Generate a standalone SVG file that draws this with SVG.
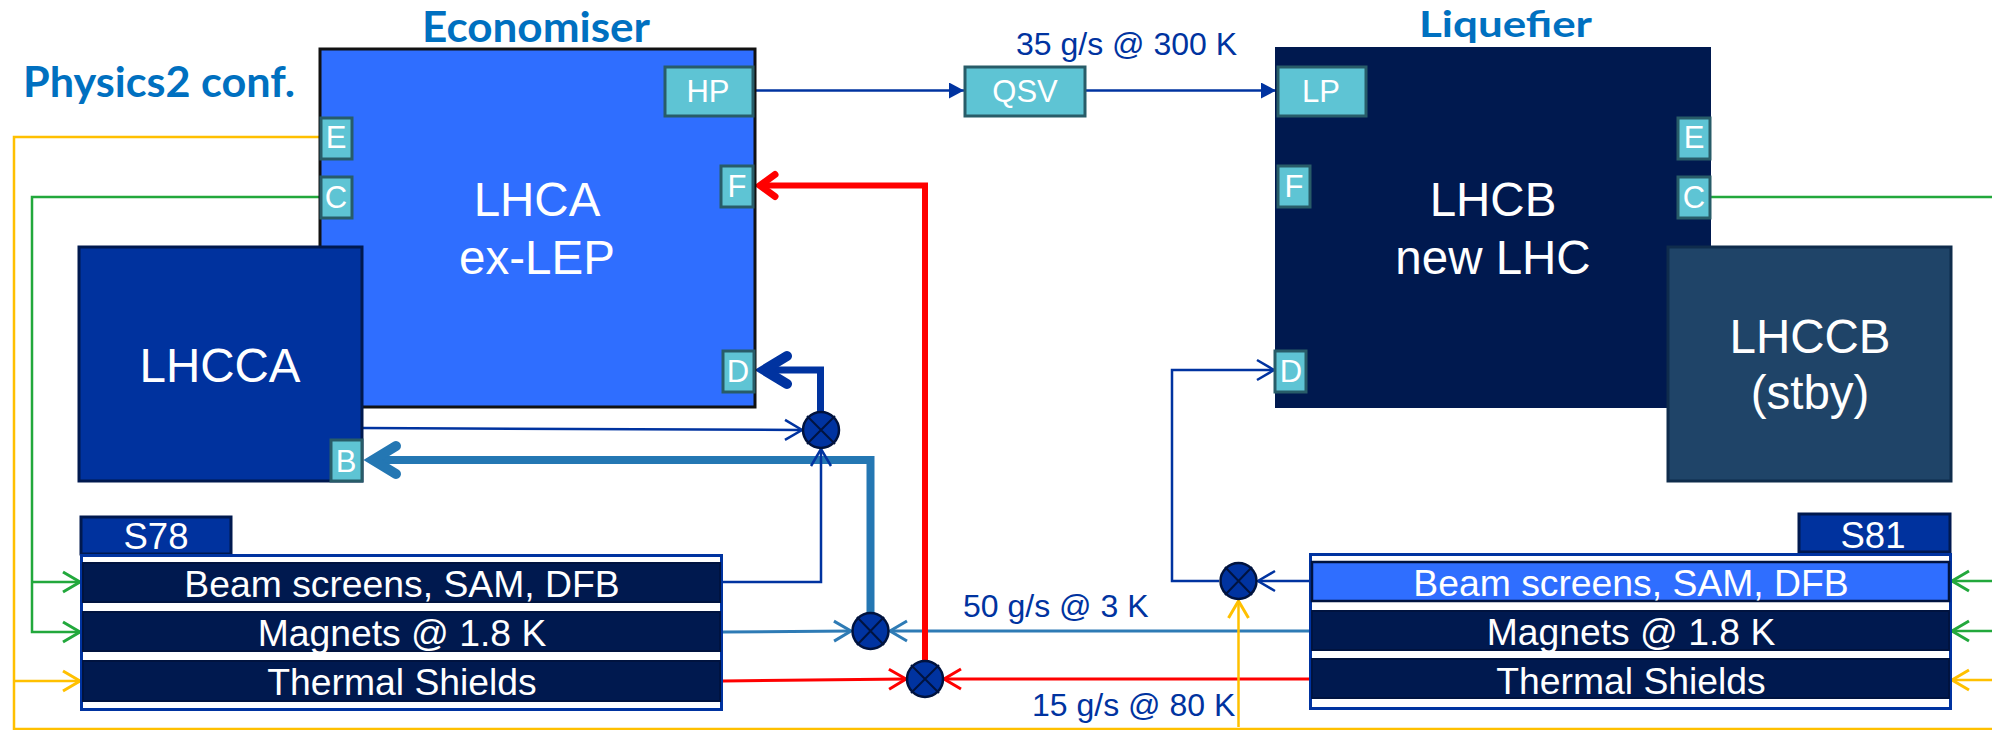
<svg xmlns="http://www.w3.org/2000/svg" width="1992" height="730" viewBox="0 0 1992 730">
<style>
text{font-family:"Liberation Sans",Arial,sans-serif;text-anchor:middle;fill:#fff}
.big{font-size:47.500px}
.port{fill:#5EC4D4;stroke:#285C68;stroke-width:3}
.pt{font-size:31px}
.row{font-size:37.300px}
.sec{font-size:36.500px}
.rowbg{fill:#00194F;stroke:#00133F;stroke-width:2}
.frame{fill:#fff;stroke:#0033A0;stroke-width:3}
.lab{font-size:32px;fill:#0033A0;text-anchor:start}
.title{font-family:Lato,"Open Sans",sans-serif;font-weight:700;fill:#0070C0;font-size:42px;text-anchor:start}
.v{fill:#0033A0;stroke:#00133F;stroke-width:2.5}
.vx{stroke:#00133F;stroke-width:2;fill:none}
.c{fill:none}
.blue{stroke:#0033A0;stroke-width:2.5}
.steel{stroke:#2E7BB5;stroke-width:3}
.red{stroke:#FF0000;stroke-width:3}
.yel{stroke:#FFC000;stroke-width:2.5}
.grn{stroke:#22A83C;stroke-width:2.5}
</style>
<defs>
<marker id="tri" markerUnits="userSpaceOnUse" markerWidth="16" markerHeight="18" refX="15" refY="8" orient="auto"><path d="M0 0L15 8L0 16z" fill="#0033A0"/></marker>
<marker id="oBlue" markerUnits="userSpaceOnUse" markerWidth="22" markerHeight="24" refX="19" refY="12" orient="auto"><path d="M2 2L19 12L2 22" fill="none" stroke="#0033A0" stroke-width="2.5"/></marker>
<marker id="oSteel" markerUnits="userSpaceOnUse" markerWidth="22" markerHeight="24" refX="19" refY="12" orient="auto"><path d="M2 2L19 12L2 22" fill="none" stroke="#2E7BB5" stroke-width="3"/></marker>
<marker id="oRed" markerUnits="userSpaceOnUse" markerWidth="22" markerHeight="24" refX="19" refY="12" orient="auto"><path d="M2 2L19 12L2 22" fill="none" stroke="#FF0000" stroke-width="3"/></marker>
<marker id="oYel" markerUnits="userSpaceOnUse" markerWidth="22" markerHeight="24" refX="19" refY="12" orient="auto"><path d="M2 2L19 12L2 22" fill="none" stroke="#FFC000" stroke-width="3"/></marker>
<marker id="oGrn" markerUnits="userSpaceOnUse" markerWidth="22" markerHeight="24" refX="19" refY="12" orient="auto"><path d="M2 2L19 12L2 22" fill="none" stroke="#22A83C" stroke-width="3"/></marker>
<marker id="hRed" markerUnits="userSpaceOnUse" markerWidth="32" markerHeight="34" refX="20" refY="16" orient="auto"><path d="M5 5L20 16L5 27" fill="none" stroke="#FF0000" stroke-width="7" stroke-linecap="round"/></marker>
<marker id="hBlue" markerUnits="userSpaceOnUse" markerWidth="46" markerHeight="44" refX="30" refY="21" orient="auto"><path d="M7 7L30 21L7 35" fill="none" stroke="#0033A0" stroke-width="10" stroke-linecap="round"/></marker>
<marker id="hSteel" markerUnits="userSpaceOnUse" markerWidth="46" markerHeight="44" refX="30" refY="21" orient="auto"><path d="M7 7L30 21L7 35" fill="none" stroke="#2477B3" stroke-width="10" stroke-linecap="round"/></marker>
</defs>

<g id="title-physics"><text class="title" x="23" y="97" textLength="272" lengthAdjust="spacingAndGlyphs">Physics2 conf.</text></g>
<g id="title-economiser"><text class="title" x="422" y="42" textLength="228" lengthAdjust="spacingAndGlyphs">Economiser</text></g>
<g id="title-liquefier"><text class="title" style="font-size:36px" x="1419" y="37" textLength="173" lengthAdjust="spacingAndGlyphs">Liquefier</text></g>

<g id="connectors">
<path class="c yel" d="M320 137H14V729H1992"/>
<path class="c yel" d="M14 681H80" marker-end="url(#oYel)"/>
<path class="c yel" d="M1992 680H1952" marker-end="url(#oYel)"/>
<path class="c grn" d="M320 197H32V632H80" marker-end="url(#oGrn)"/>
<path class="c grn" d="M32 582H80" marker-end="url(#oGrn)"/>
<path class="c grn" d="M1711 197H1992"/>
<path class="c grn" d="M1992 581H1952" marker-end="url(#oGrn)"/>
<path class="c grn" d="M1992 631H1952" marker-end="url(#oGrn)"/>
<path class="c blue" d="M755 90.500H964" marker-end="url(#tri)"/>
<path class="c blue" d="M1086 90.500H1276" marker-end="url(#tri)"/>
<path class="c steel" d="M723 632L851 631" marker-end="url(#oSteel)"/>
<path class="c steel" d="M1309 631H890" marker-end="url(#oSteel)"/>
<path class="c red" d="M723 681L906 679" marker-end="url(#oRed)"/>
<path class="c red" d="M1309 679H944" marker-end="url(#oRed)"/>
<path class="c" stroke="#FF0000" stroke-width="6" d="M925 660V185.500H760" marker-end="url(#hRed)"/>
<path class="c" stroke="#0033A0" stroke-width="7" d="M820.500 412V370H764" marker-end="url(#hBlue)"/>
<path class="c" stroke="#2477B3" stroke-width="8" d="M870.500 612V460H373" marker-end="url(#hSteel)"/>
<path class="c blue" d="M363 428L802 430" marker-end="url(#oBlue)"/>
<path class="c blue" d="M723 582H821V449" marker-end="url(#oBlue)"/>
<path class="c blue" d="M1309 581H1258" marker-end="url(#oBlue)"/>
<path class="c blue" d="M1219 581H1172V370H1274" marker-end="url(#oBlue)"/>
<path class="c yel" d="M1238.500 727V601" marker-end="url(#oYel)"/>
</g>

<g id="economiser">
<rect x="320" y="49" width="435" height="358" fill="#2F6EFF" stroke="#111" stroke-width="3"/>
<text class="big" x="537" y="216">LHCA</text>
<text class="big" x="537" y="274">ex-LEP</text>
</g>
<g id="port-hp"><rect class="port" x="665" y="67" width="88" height="49"/><text class="pt" x="708" y="102">HP</text></g>
<g id="port-e-a"><rect class="port" x="321" y="118" width="31" height="41"/><text class="pt" x="336" y="148">E</text></g>
<g id="port-c-a"><rect class="port" x="321" y="177" width="31" height="41"/><text class="pt" x="336" y="208">C</text></g>
<g id="port-f-a"><rect class="port" x="721" y="166" width="32" height="41"/><text class="pt" x="737" y="197">F</text></g>
<g id="port-d-a"><rect class="port" x="723" y="351" width="31" height="41"/><text class="pt" x="738" y="382">D</text></g>

<g id="lhcca">
<rect x="79" y="247" width="283" height="234" fill="#00329E" stroke="#00194F" stroke-width="3"/>
<text class="big" x="220" y="382">LHCCA</text>
</g>
<g id="port-b"><rect class="port" x="331" y="440" width="31" height="41"/><text class="pt" x="346" y="472">B</text></g>

<g id="qsv"><rect x="965" y="67" width="120" height="49" fill="#5EC4D4" stroke="#285C68" stroke-width="3"/><text class="pt" x="1025" y="102">QSV</text></g>

<g id="liquefier">
<rect x="1275" y="47" width="436" height="361" fill="#00194F"/>
<text class="big" x="1493" y="216">LHCB</text>
<text class="big" x="1493" y="274">new LHC</text>
</g>
<g id="port-lp"><rect class="port" x="1278" y="67" width="88" height="49"/><text class="pt" x="1321" y="102">LP</text></g>
<g id="port-e-b"><rect class="port" x="1678" y="118" width="32" height="41"/><text class="pt" x="1694" y="148">E</text></g>
<g id="port-c-b"><rect class="port" x="1678" y="177" width="32" height="41"/><text class="pt" x="1694" y="208">C</text></g>
<g id="port-f-b"><rect class="port" x="1278" y="166" width="32" height="41"/><text class="pt" x="1294" y="197">F</text></g>
<g id="port-d-b"><rect class="port" x="1275" y="351" width="31" height="41"/><text class="pt" x="1291" y="382">D</text></g>

<g id="lhccb">
<rect x="1668" y="247" width="283" height="234" fill="#1F4468" stroke="#0F2C4C" stroke-width="3"/>
<text class="big" x="1810" y="353">LHCCB</text>
<text class="big" x="1810" y="409">(stby)</text>
</g>

<g id="s78">
<rect x="81" y="517" width="150" height="37" fill="#00329E" stroke="#00194F" stroke-width="3"/>
<text class="sec" x="156" y="549">S78</text>
<rect class="frame" x="81.500" y="555.500" width="640" height="154"/>
<rect class="rowbg" x="83" y="563" width="637" height="39"/>
<rect class="rowbg" x="83" y="612" width="637" height="39"/>
<rect class="rowbg" x="83" y="661" width="637" height="40"/>
<text class="row" x="402" y="597">Beam screens, SAM, DFB</text>
<text class="row" x="402" y="646">Magnets @ 1.8 K</text>
<text class="row" x="402" y="695">Thermal Shields</text>
</g>

<g id="s81">
<rect x="1799" y="514" width="151" height="38" fill="#00329E" stroke="#00194F" stroke-width="3"/>
<text class="sec" x="1873" y="548">S81</text>
<rect class="frame" x="1310.500" y="554.500" width="640" height="154"/>
<rect x="1312" y="562" width="637" height="39" fill="#2F6EFF" stroke="#00133F" stroke-width="2.500"/>
<rect class="rowbg" x="1312" y="611" width="637" height="39"/>
<rect class="rowbg" x="1312" y="659" width="637" height="39"/>
<text class="row" x="1631" y="596">Beam screens, SAM, DFB</text>
<text class="row" x="1631" y="645">Magnets @ 1.8 K</text>
<text class="row" x="1631" y="694">Thermal Shields</text>
</g>

<g id="valve-1"><circle class="v" cx="821" cy="430" r="18"/><path class="vx" d="M807 416L835 444M835 416L807 444"/></g>
<g id="valve-2"><circle class="v" cx="870.500" cy="631" r="18"/><path class="vx" d="M857 617L884 645M884 617L857 645"/></g>
<g id="valve-3"><circle class="v" cx="925" cy="679" r="18"/><path class="vx" d="M911 665L939 693M939 665L911 693"/></g>
<g id="valve-4"><circle class="v" cx="1238.500" cy="581" r="18"/><path class="vx" d="M1225 567L1252 595M1252 567L1225 595"/></g>

<g id="labels">
<text class="lab" x="1016" y="55">35 g/s @ 300 K</text>
<text class="lab" x="963" y="617">50 g/s @ 3 K</text>
<text class="lab" x="1032" y="716">15 g/s @ 80 K</text>
</g>
</svg>
